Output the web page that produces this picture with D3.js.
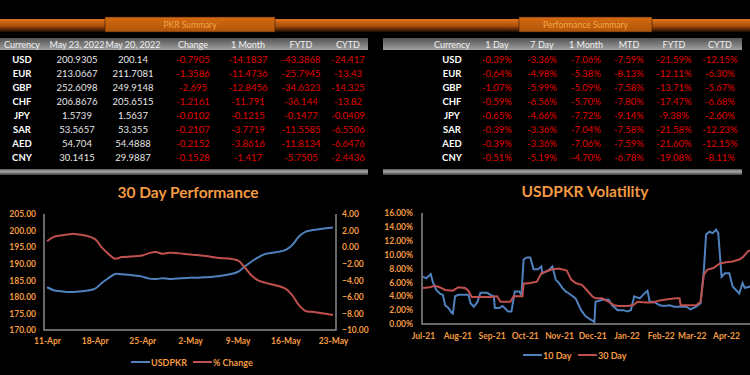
<!DOCTYPE html>
<html>
<head>
<meta charset="utf-8">
<script src="https://cdn.jsdelivr.net/npm/d3@7"></script>
<style>
  body { margin: 0; background: #000; }
  svg { display: block; font-family: Lato, "Open Sans", sans-serif; }
</style>
</head>
<body>
<div id="dash"></div>
<script>
// ---- table data ----
const currencies = ["USD", "EUR", "GBP", "CHF", "JPY", "SAR", "AED", "CNY"];

const pkrHeaders = ["Currency", "May 23, 2022", "May 20, 2022", "Change", "1 Month", "FYTD", "CYTD"];
const rateMay23 = ["200.9305", "213.0667", "252.6098", "206.8676", "1.5739", "53.5657", "54.704", "30.1415"];
const rateMay20 = ["200.14", "211.7081", "249.9148", "205.6515", "1.5637", "53.355", "54.4888", "29.9887"];
const pkrChange = ["-0.7905", "-1.3586", "-2.695", "-1.2161", "-0.0102", "-0.2107", "-0.2152", "-0.1528"];
const pkrMonth = ["-14.1837", "-11.4736", "-12.8456", "-11.791", "-0.1215", "-3.7719", "-3.8616", "-1.417"];
const pkrFytd = ["-43.3868", "-25.7945", "-34.6323", "-36.144", "-0.1477", "-11.5585", "-11.8134", "-5.7505"];
const pkrCytd = ["-24.417", "-13.43", "-14.325", "-13.82", "-0.0409", "-6.5506", "-6.6476", "-2.4436"];

const perfHeaders = ["Currency", "1 Day", "7 Day", "1 Month", "MTD", "FYTD", "CYTD"];
const perfDay = ["-0.39%", "-0.64%", "-1.07%", "-0.59%", "-0.65%", "-0.39%", "-0.39%", "-0.51%"];
const perfWeek = ["-3.36%", "-4.98%", "-5.99%", "-6.56%", "-4.66%", "-3.36%", "-3.36%", "-5.19%"];
const perfMonth = ["-7.06%", "-5.38%", "-5.09%", "-5.70%", "-7.72%", "-7.04%", "-7.06%", "-4.70%"];
const perfMtd = ["-7.59%", "-8.13%", "-7.58%", "-7.80%", "-9.14%", "-7.58%", "-7.59%", "-6.78%"];
const perfFytd = ["-21.59%", "-12.11%", "-13.71%", "-17.47%", "-9.38%", "-21.58%", "-21.60%", "-19.08%"];
const perfCytd = ["-12.15%", "-6.30%", "-5.67%", "-6.68%", "-2.60%", "-12.23%", "-12.15%", "-8.11%"];

// ---- 30 day performance ----
const perfDates = ["2022-04-11", "2022-04-12", "2022-04-13", "2022-04-14", "2022-04-15",
  "2022-04-18", "2022-04-19", "2022-04-20", "2022-04-21", "2022-04-22",
  "2022-04-25", "2022-04-26", "2022-04-27", "2022-04-28", "2022-04-29",
  "2022-05-02", "2022-05-03", "2022-05-04", "2022-05-05", "2022-05-06",
  "2022-05-09", "2022-05-10", "2022-05-11", "2022-05-12", "2022-05-13",
  "2022-05-16", "2022-05-17", "2022-05-18", "2022-05-19", "2022-05-20", "2022-05-23"];
const usdpkr = [182.9, 182.0, 181.7, 181.5, 181.5,
  182.4, 184.1, 185.6, 186.9, 186.8,
  186.1, 185.5, 185.4, 185.6, 185.4,
  185.8, 185.8, 185.9, 186.0, 186.2,
  187.5, 189.1, 190.6, 191.9, 192.9,
  194.1, 195.6, 198.2, 199.7, 200.14, 200.93];
const pctChange = [0.72, 1.24, 1.4, 1.52, 1.6,
  1.0, 0.0, -0.8, -1.4, -1.2,
  -1.0, -0.72, -0.6, -0.8, -0.68,
  -0.88, -0.95, -1.05, -1.15, -1.28,
  -1.6, -2.4, -3.4, -4.0, -4.28,
  -5.0, -5.8, -7.0, -7.72, -7.8, -8.2];
const perfTicks = ["2022-04-11", "2022-04-18", "2022-04-25", "2022-05-02", "2022-05-09", "2022-05-16", "2022-05-23"];

// ---- volatility (percent) ----
const vol10 = [
  ["2021-07-01", 6.8], ["2021-07-04", 6.6], ["2021-07-08", 7.2], ["2021-07-10", 6.0], ["2021-07-13", 4.9],
  ["2021-07-16", 4.4], ["2021-07-19", 4.2], ["2021-07-21", 2.7], ["2021-07-24", 2.3], ["2021-07-27", 1.6],
  ["2021-07-28", 1.5], ["2021-07-30", 4.0], ["2021-08-02", 4.2], ["2021-08-11", 4.2], ["2021-08-13", 3.0],
  ["2021-08-16", 2.5], ["2021-08-19", 3.1], ["2021-08-22", 4.5], ["2021-08-28", 4.5], ["2021-08-31", 4.2],
  ["2021-09-03", 4.0], ["2021-09-04", 2.3], ["2021-09-08", 2.3], ["2021-09-11", 2.6], ["2021-09-16", 1.8],
  ["2021-09-19", 1.8], ["2021-09-22", 4.7], ["2021-09-26", 4.7], ["2021-09-28", 4.2], ["2021-09-30", 9.3],
  ["2021-10-03", 9.6], ["2021-10-06", 9.6], ["2021-10-09", 7.9], ["2021-10-13", 7.9], ["2021-10-16", 8.3],
  ["2021-10-17", 7.3], ["2021-10-23", 7.8], ["2021-10-26", 8.3], ["2021-10-29", 6.4], ["2021-11-01", 5.9],
  ["2021-11-04", 5.2], ["2021-11-07", 4.7], ["2021-11-10", 4.4], ["2021-11-16", 3.7], ["2021-11-21", 2.0],
  ["2021-11-25", 1.1], ["2021-11-30", 0.6], ["2021-12-03", 0.3], ["2021-12-04", 3.2], ["2021-12-10", 3.5],
  ["2021-12-16", 3.5], ["2021-12-19", 2.7], ["2021-12-24", 2.0], ["2021-12-29", 2.0], ["2022-01-02", 1.8],
  ["2022-01-05", 2.0], ["2022-01-08", 4.0], ["2022-01-13", 3.7], ["2022-01-16", 4.2], ["2022-01-20", 4.8],
  ["2022-01-22", 3.2], ["2022-01-26", 3.2], ["2022-01-31", 2.7], ["2022-02-04", 2.6], ["2022-02-09", 2.7],
  ["2022-02-13", 2.5], ["2022-02-18", 2.5], ["2022-02-24", 2.5], ["2022-02-28", 2.1], ["2022-03-05", 2.5],
  ["2022-03-09", 3.0], ["2022-03-12", 7.8], ["2022-03-14", 12.9], ["2022-03-17", 13.3], ["2022-03-20", 13.1],
  ["2022-03-23", 13.6], ["2022-03-25", 13.1], ["2022-03-28", 6.8], ["2022-03-31", 7.3], ["2022-04-04", 7.3],
  ["2022-04-07", 5.4], ["2022-04-13", 4.4], ["2022-04-16", 5.9], ["2022-04-18", 5.2], ["2022-04-23", 5.4],
  ["2022-05-01", 5.6]
];
const vol30 = [
  ["2021-07-01", 5.2], ["2021-07-07", 5.3], ["2021-07-12", 5.5], ["2021-07-16", 5.3], ["2021-07-21", 4.9],
  ["2021-07-28", 4.8], ["2021-08-02", 5.3], ["2021-08-08", 5.2], ["2021-08-11", 4.8], ["2021-08-14", 3.9],
  ["2021-08-22", 3.9], ["2021-08-31", 3.9], ["2021-09-06", 4.0], ["2021-09-09", 3.2], ["2021-09-18", 3.2],
  ["2021-09-21", 4.0], ["2021-09-29", 4.0], ["2021-09-30", 5.8], ["2021-10-06", 5.9], ["2021-10-12", 6.1],
  ["2021-10-16", 7.3], ["2021-10-21", 7.6], ["2021-10-26", 7.9], ["2021-11-01", 8.0], ["2021-11-08", 7.7],
  ["2021-11-12", 6.4], ["2021-11-16", 5.9], ["2021-11-22", 5.6], ["2021-11-26", 4.9], ["2021-12-01", 4.0],
  ["2021-12-04", 3.7], ["2021-12-10", 3.7], ["2021-12-16", 3.2], ["2021-12-21", 2.7], ["2021-12-25", 2.6],
  ["2022-01-01", 2.6], ["2022-01-07", 2.7], ["2022-01-11", 3.2], ["2022-01-19", 3.1], ["2022-01-25", 3.1],
  ["2022-01-31", 3.4], ["2022-02-09", 3.6], ["2022-02-15", 3.7], ["2022-02-18", 3.7], ["2022-02-19", 2.7],
  ["2022-02-27", 2.7], ["2022-03-05", 2.7], ["2022-03-09", 3.2], ["2022-03-12", 7.1], ["2022-03-15", 7.8],
  ["2022-03-21", 8.1], ["2022-03-26", 8.7], ["2022-04-01", 8.9], ["2022-04-07", 9.0], ["2022-04-13", 9.3],
  ["2022-04-16", 9.6], ["2022-04-21", 10.5], ["2022-05-01", 11.0]
];
const volTicks = ["2021-07-01", "2021-08-01", "2021-09-01", "2021-10-01", "2021-11-01",
  "2021-12-01", "2022-01-01", "2022-02-01", "2022-03-01", "2022-04-01"];

// ---- colours ----
const orange = "#f39a43";
const blue = "#4f81bd";
const red = "#c0504d";
const axisGray = "#8a8a8a";

const parseDate = d3.timeParse("%Y-%m-%d");

const svg = d3.select("#dash")
  .append("svg")
  .attr("width", 750)
  .attr("height", 375);

svg.append("rect").attr("width", 750).attr("height", 375).attr("fill", "#000");

// gradients
const defs = svg.append("defs");
function vGrad(id, stops) {
  const g = defs.append("linearGradient").attr("id", id)
    .attr("x1", 0).attr("y1", 0).attr("x2", 0).attr("y2", 1);
  stops.forEach(s => g.append("stop").attr("offset", s[0]).attr("stop-color", s[1]));
}
vGrad("barGrad", [["0%", "#e2761c"], ["55%", "#a84d0c"], ["100%", "#1c0c02"]]);
vGrad("tabGrad", [["0%", "#d46a12"], ["100%", "#b0560a"]]);
vGrad("headGrad", [["0%", "#525252"], ["100%", "#a0a0a0"]]);
vGrad("footGrad", [["0%", "#5a5a5a"], ["45%", "#a8a8a8"], ["100%", "#3a3a3a"]]);

// ---- banner ----
svg.append("rect").attr("x", 0).attr("y", 19).attr("width", 750).attr("height", 13).attr("fill", "url(#barGrad)");

const tabs = [
  { label: "PKR Summary", x: 105, w: 170 },
  { label: "Performance Summary", x: 519, w: 133 }
];
tabs.forEach(t => {
  svg.append("rect").attr("x", t.x).attr("y", 17).attr("width", t.w).attr("height", 15)
    .attr("fill", "url(#tabGrad)").attr("stroke", "#3a1a04").attr("stroke-width", 0.6);
  svg.append("text").attr("x", t.x + t.w / 2).attr("y", 27.5)
    .attr("text-anchor", "middle").attr("font-size", 8.5).attr("fill", "#f6a545")
    .text(t.label);
});

// ---- tables ----
function drawTable(left, width, headers, colX, columns) {
  svg.append("rect").attr("x", left).attr("y", 38).attr("width", width).attr("height", 12)
    .attr("fill", "url(#headGrad)");
  svg.append("rect").attr("x", left).attr("y", 169).attr("width", width).attr("height", 6)
    .attr("fill", "url(#footGrad)");

  headers.forEach((h, i) => {
    svg.append("text").attr("x", colX[i]).attr("y", 47.5)
      .attr("text-anchor", "middle").attr("font-size", 9).attr("fill", "#f0f0f0")
      .text(h);
  });

  const rowY = d3.scalePoint().domain(currencies).range([59, 157]);
  columns.forEach((col, i) => {
    svg.append("g").selectAll("text")
      .data(col.values)
      .join("text")
      .attr("x", colX[i])
      .attr("y", (d, j) => rowY(currencies[j]) + 3.5)
      .attr("text-anchor", "middle")
      .attr("font-size", 9.5)
      .attr("font-weight", col.bold ? "bold" : "normal")
      .attr("fill", col.color)
      .text(d => d);
  });
}

drawTable(0, 368, pkrHeaders, [22, 77, 133, 193, 248, 301, 348], [
  { values: currencies, color: "#ffffff", bold: true },
  { values: rateMay23, color: "#e6e6e6" },
  { values: rateMay20, color: "#e6e6e6" },
  { values: pkrChange, color: "#e00000" },
  { values: pkrMonth, color: "#e00000" },
  { values: pkrFytd, color: "#e00000" },
  { values: pkrCytd, color: "#e00000" }
]);

drawTable(383, 359, perfHeaders, [452, 497, 542, 586, 629, 674, 720], [
  { values: currencies, color: "#ffffff", bold: true },
  { values: perfDay, color: "#e00000" },
  { values: perfWeek, color: "#e00000" },
  { values: perfMonth, color: "#e00000" },
  { values: perfMtd, color: "#e00000" },
  { values: perfFytd, color: "#e00000" },
  { values: perfCytd, color: "#e00000" }
]);

// ---- helpers ----
function styleAxis(g) {
  g.select(".domain").remove();
  g.selectAll(".tick line").remove();
  g.selectAll(".tick text")
    .attr("fill", orange)
    .attr("font-size", 8.5)
    .attr("font-weight", "bold")
    .attr("font-family", "Lato, 'Open Sans', sans-serif");
}

function legendItem(x, y, color, label) {
  svg.append("line").attr("x1", x).attr("x2", x + 19).attr("y1", y).attr("y2", y)
    .attr("stroke", color).attr("stroke-width", 2);
  svg.append("text").attr("x", x + 20).attr("y", y + 3.5)
    .attr("font-size", 9).attr("font-weight", "bold").attr("fill", orange)
    .text(label);
}

// ---- 30 Day Performance chart ----
const perfData = perfDates.map((d, i) => ({ date: parseDate(d), usd: usdpkr[i], pct: pctChange[i] }));

const xPerf = d3.scaleTime()
  .domain([parseDate(perfDates[0]), parseDate(perfDates[perfDates.length - 1])])
  .range([47, 333]);
const yUsd = d3.scaleLinear().domain([170, 205]).range([330, 214]);
const yPct = d3.scaleLinear().domain([-10, 4]).range([330, 214]);

svg.append("text").attr("x", 188).attr("y", 198)
  .attr("text-anchor", "middle").attr("font-size", 15.5).attr("font-weight", "bold")
  .attr("fill", orange).text("30 Day Performance");

svg.append("g").attr("transform", "translate(44,0)")
  .call(d3.axisLeft(yUsd).tickValues(d3.range(170, 206, 5)).tickFormat(d3.format(".2f")).tickSize(0).tickPadding(8))
  .call(styleAxis);
svg.append("g").attr("transform", "translate(336,0)")
  .call(d3.axisRight(yPct).tickValues(d3.range(-10, 5, 2)).tickFormat(d3.format(".2f")).tickSize(0).tickPadding(6))
  .call(styleAxis);
svg.append("g").attr("transform", "translate(0,330)")
  .call(d3.axisBottom(xPerf).tickValues(perfTicks.map(parseDate)).tickFormat(d3.timeFormat("%-d-%b")).tickSize(0).tickPadding(8))
  .call(styleAxis);

// axis lines
svg.append("path").attr("d", `M44,${yUsd(205)}V${yUsd(170)}H336V${yPct(4)}`)
  .attr("fill", "none").attr("stroke", axisGray).attr("stroke-width", 1.5);

const smooth = d3.curveCatmullRom.alpha(0.5);
svg.append("path").datum(perfData)
  .attr("fill", "none").attr("stroke", blue).attr("stroke-width", 2)
  .attr("d", d3.line().curve(smooth).x(d => xPerf(d.date)).y(d => yUsd(d.usd)));
svg.append("path").datum(perfData)
  .attr("fill", "none").attr("stroke", red).attr("stroke-width", 2)
  .attr("d", d3.line().curve(smooth).x(d => xPerf(d.date)).y(d => yPct(d.pct)));

legendItem(131, 362, blue, "USDPKR");
legendItem(193, 362, red, "% Change");

// ---- USDPKR Volatility chart ----
const xVol = d3.scaleTime()
  .domain([parseDate("2021-07-01"), parseDate("2022-04-01")])
  .range([423, 726]);
const yVol = d3.scaleLinear().domain([0, 16]).range([324, 213]);

svg.append("text").attr("x", 585).attr("y", 197)
  .attr("text-anchor", "middle").attr("font-size", 15.5).attr("font-weight", "bold")
  .attr("fill", orange).text("USDPKR Volatility");

svg.append("g").attr("transform", "translate(422,0)")
  .call(d3.axisLeft(yVol).tickValues(d3.range(0, 17, 2)).tickFormat(d => d3.format(".2f")(d) + "%").tickSize(0).tickPadding(9))
  .call(styleAxis);
svg.append("g").attr("transform", "translate(0,324)")
  .call(d3.axisBottom(xVol).tickValues(volTicks.map(parseDate)).tickFormat(d3.timeFormat("%b-%y")).tickSize(0).tickPadding(9))
  .call(styleAxis);

svg.append("path").attr("d", `M422,${yVol(16)}V${yVol(0)}H750`)
  .attr("fill", "none").attr("stroke", axisGray).attr("stroke-width", 1.5);

const volLine = d3.line().x(d => xVol(parseDate(d[0]))).y(d => yVol(d[1]));
svg.append("path").datum(vol10)
  .attr("fill", "none").attr("stroke", blue).attr("stroke-width", 2).attr("d", volLine);
svg.append("path").datum(vol30)
  .attr("fill", "none").attr("stroke", red).attr("stroke-width", 2).attr("d", volLine);

legendItem(523, 355, blue, "10 Day");
legendItem(578, 355, red, "30 Day");
</script>
</body>
</html>
